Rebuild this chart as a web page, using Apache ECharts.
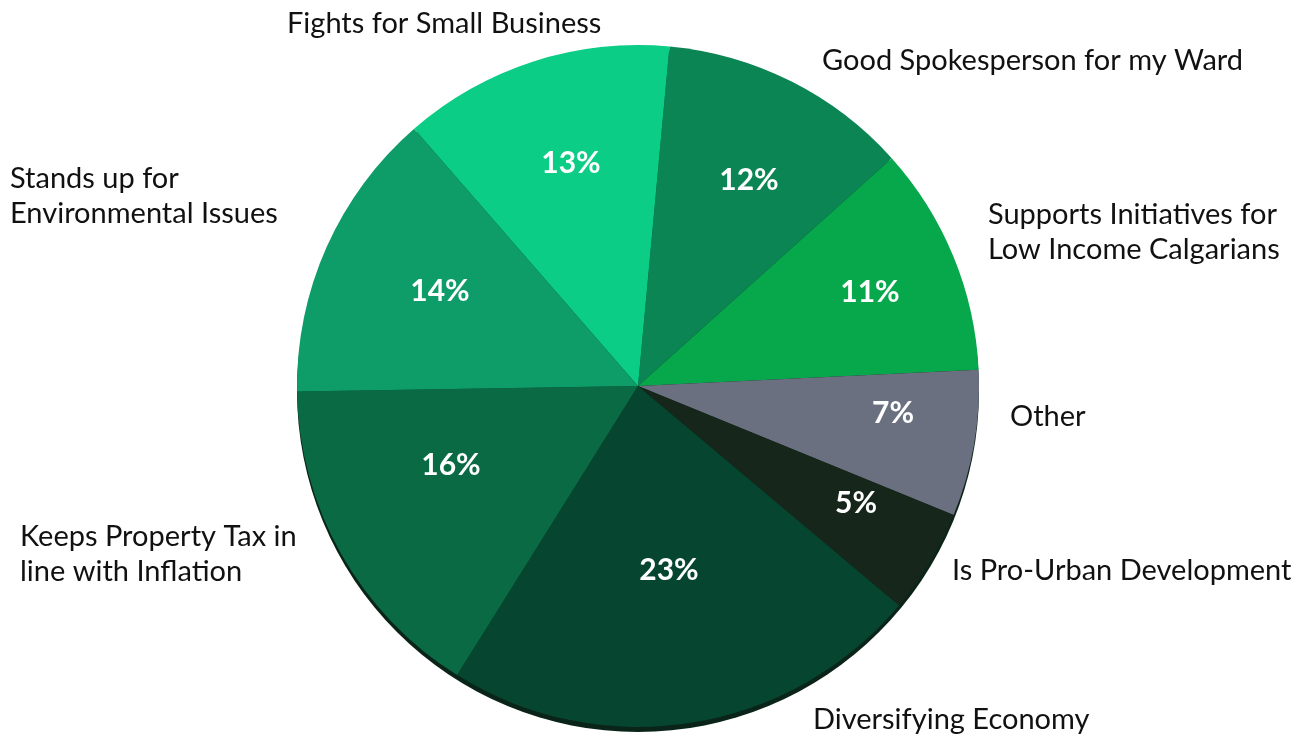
<!DOCTYPE html>
<html>
<head>
<meta charset="utf-8">
<script src="https://cdn.jsdelivr.net/npm/echarts@6/dist/echarts.min.js"></script>
<style>
  html, body { margin: 0; padding: 0; background: #fff; }
  #chart { width: 1313px; height: 738px; }
</style>
</head>
<body>
<div id="chart"></div>
<script>
// slices clockwise from the top
var categories = [
  'Good Spokesperson for my Ward',
  'Supports Initiatives for\nLow Income Calgarians',
  'Other',
  'Is Pro-Urban Development',
  'Diversifying Economy',
  'Keeps Property Tax in\nline with Inflation',
  'Stands up for\nEnvironmental Issues',
  'Fights for Small Business'
];
var percents = [12, 11, 7, 5, 23, 16, 14, 13];
var sliceColors = ['#0a8553', '#07a84c', '#6b7080', '#16261a', '#06452f', '#0a6a44', '#0e9c68', '#0bcd86'];

// outer label text start (left edge, vertical middle)
var labelAnchors = [
  [822, 61], [988, 232], [1010, 417], [952, 571],
  [813, 720], [20, 554], [10, 196], [287, 24]
];
// centre of each percent label
var pctAnchors = [
  [749, 180], [870, 292], [893, 413], [856, 503],
  [669, 570], [451, 465], [440, 291], [571, 163]
];

var center = [638, 386];
var radius = 341;

var myChart = echarts.init(document.getElementById('chart'));

var pieData = categories.map(function (name, i) {
  return { name: name, value: percents[i], itemStyle: { color: sliceColors[i] } };
});

var option = {
  animation: false,
  series: [
    {
      // dark rim under the pie
      type: 'pie',
      silent: true,
      center: [center[0], center[1] + 5],
      radius: radius,
      label: { show: false },
      data: [{ value: 1, itemStyle: { color: '#0a2419' } }]
    },
    {
      type: 'pie',
      center: center,
      radius: radius,
      startAngle: 84.7,
      clockwise: true,
      data: pieData,
      itemStyle: { borderWidth: 0 },
      label: {
        show: true,
        position: 'outside',
        formatter: '{b}',
        color: '#111',
        fontFamily: 'Lato',
        fontSize: 29,
        lineHeight: 35,
        overflow: 'none'
      },
      edgeDistance: 0,
      labelLine: { show: false },
      labelLayout: function (params) {
        var p = labelAnchors[params.dataIndex];
        return { x: p[0], y: p[1], align: 'left', verticalAlign: 'middle' };
      }
    },
    {
      // transparent copy carrying the percent labels
      type: 'pie',
      silent: true,
      center: center,
      radius: radius,
      startAngle: 84.7,
      data: percents.map(function (v, i) { return { name: categories[i], value: v }; }),
      itemStyle: { color: 'rgba(0,0,0,0)' },
      label: {
        show: true,
        position: 'inside',
        formatter: function (p) { return p.value + '%'; },
        color: '#fff',
        fontFamily: 'Lato',
        fontWeight: 'bold',
        fontSize: 30
      },
      labelLine: { show: false },
      labelLayout: function (params) {
        var p = pctAnchors[params.dataIndex];
        return { x: p[0], y: p[1], align: 'center', verticalAlign: 'middle' };
      }
    }
  ]
};

myChart.setOption(option);
</script>
</body>
</html>
